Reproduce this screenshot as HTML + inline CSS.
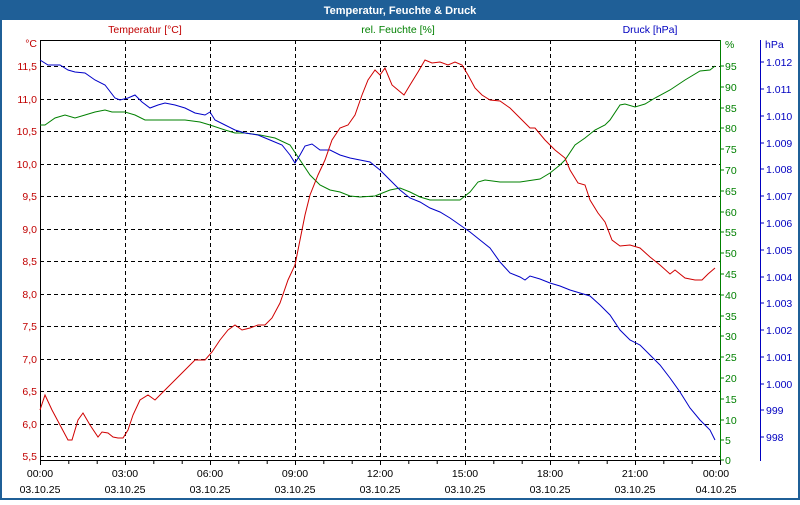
<!DOCTYPE html>
<html><head><meta charset="utf-8"><style>
body{margin:0;width:800px;height:500px;overflow:hidden;background:#fff;font-family:"Liberation Sans",sans-serif}
svg text{font-family:"Liberation Sans",sans-serif;font-size:10.5px}
</style></head><body>
<svg width="800" height="500" xmlns="http://www.w3.org/2000/svg">
<rect x="0" y="0" width="800" height="500" fill="#fff"/>
<rect x="1" y="1" width="798" height="498" fill="none" stroke="#1f5f97" stroke-width="2"/>
<rect x="0" y="0" width="800" height="20" fill="#1f5f97"/>
<text x="400" y="14" text-anchor="middle" fill="#fff" font-weight="bold" style="font-size:11px">Temperatur, Feuchte &amp; Druck</text>
<text x="145" y="33" text-anchor="middle" fill="#c00000">Temperatur [°C]</text>
<text x="398" y="33" text-anchor="middle" fill="#008000">rel. Feuchte [%]</text>
<text x="650" y="33" text-anchor="middle" fill="#0000c0">Druck [hPa]</text>
<g stroke="#000" stroke-dasharray="4,3" stroke-width="1">
<line x1="125.5" y1="40" x2="125.5" y2="460"/><line x1="210.5" y1="40" x2="210.5" y2="460"/><line x1="295.5" y1="40" x2="295.5" y2="460"/><line x1="380.5" y1="40" x2="380.5" y2="460"/><line x1="465.5" y1="40" x2="465.5" y2="460"/><line x1="550.5" y1="40" x2="550.5" y2="460"/><line x1="635.5" y1="40" x2="635.5" y2="460"/>
<line x1="40" y1="66.5" x2="720" y2="66.5"/><line x1="40" y1="99.5" x2="720" y2="99.5"/><line x1="40" y1="131.5" x2="720" y2="131.5"/><line x1="40" y1="164.5" x2="720" y2="164.5"/><line x1="40" y1="196.5" x2="720" y2="196.5"/><line x1="40" y1="229.5" x2="720" y2="229.5"/><line x1="40" y1="261.5" x2="720" y2="261.5"/><line x1="40" y1="294.5" x2="720" y2="294.5"/><line x1="40" y1="326.5" x2="720" y2="326.5"/><line x1="40" y1="359.5" x2="720" y2="359.5"/><line x1="40" y1="391.5" x2="720" y2="391.5"/><line x1="40" y1="424.5" x2="720" y2="424.5"/><line x1="40" y1="456.5" x2="720" y2="456.5"/>
</g>
<line x1="40" y1="40.5" x2="720" y2="40.5" stroke="#000"/>
<line x1="40.5" y1="40" x2="40.5" y2="461" stroke="#000"/>
<line x1="40" y1="460.5" x2="720" y2="460.5" stroke="#000"/>
<line x1="720.5" y1="40" x2="720.5" y2="461" stroke="#008000"/>
<line x1="760.5" y1="40" x2="760.5" y2="461" stroke="#0000c0"/>
<g stroke="#000" id="bt"></g>
<g fill="#c00000" text-anchor="end">
<text x="37" y="47">°C</text>
<text x="37" y="70">11,5</text><text x="37" y="103">11,0</text><text x="37" y="135">10,5</text><text x="37" y="168">10,0</text><text x="37" y="200">9,5</text><text x="37" y="233">9,0</text><text x="37" y="265">8,5</text><text x="37" y="298">8,0</text><text x="37" y="330">7,5</text><text x="37" y="363">7,0</text><text x="37" y="395">6,5</text><text x="37" y="428">6,0</text><text x="37" y="460">5,5</text>
</g>
<g fill="#008000">
<text x="725" y="48">%</text>
<text x="725" y="70">95</text><text x="725" y="91">90</text><text x="725" y="112">85</text><text x="725" y="132">80</text><text x="725" y="153">75</text><text x="725" y="174">70</text><text x="725" y="195">65</text><text x="725" y="216">60</text><text x="725" y="236">55</text><text x="725" y="257">50</text><text x="725" y="278">45</text><text x="725" y="299">40</text><text x="725" y="320">35</text><text x="725" y="340">30</text><text x="725" y="361">25</text><text x="725" y="382">20</text><text x="725" y="403">15</text><text x="725" y="424">10</text><text x="725" y="444">5</text><text x="725" y="464">0</text>
</g>
<g stroke="#008000">
<path d="M720 66h4M720 87h4M720 108h4M720 128h4M720 149h4M720 170h4M720 191h4M720 212h4M720 232h4M720 253h4M720 274h4M720 295h4M720 316h4M720 336h4M720 357h4M720 378h4M720 399h4M720 420h4M720 440h4M720 460h4"/>
</g>
<g stroke="#0000c0"><path d="M760 62h4M760 89h4M760 116h4M760 143h4M760 169h4M760 196h4M760 223h4M760 250h4M760 277h4M760 303h4M760 330h4M760 357h4M760 384h4M760 410h4M760 437h4"/></g>
<g fill="#0000c0">
<text x="765" y="48">hPa</text>
<text x="766" y="66">1.012</text><text x="766" y="93">1.011</text><text x="766" y="120">1.010</text><text x="766" y="147">1.009</text><text x="766" y="173">1.008</text><text x="766" y="200">1.007</text><text x="766" y="227">1.006</text><text x="766" y="254">1.005</text><text x="766" y="281">1.004</text><text x="766" y="307">1.003</text><text x="766" y="334">1.002</text><text x="766" y="361">1.001</text><text x="766" y="388">1.000</text><text x="766" y="414">999</text><text x="766" y="441">998</text>
</g>
<g stroke="#000">
<path d="M40.5 460v5M68.8 460v4M97.2 460v4M125.5 460v5M153.8 460v4M182.2 460v4M210.5 460v5M238.8 460v4M267.2 460v4M295.5 460v5M323.8 460v4M352.2 460v4M380.5 460v5M408.8 460v4M437.2 460v4M465.5 460v5M493.8 460v4M522.2 460v4M550.5 460v5M578.8 460v4M607.2 460v4M635.5 460v5M663.8 460v4M692.2 460v4M720.5 460v5"/>
</g>
<g fill="#000" text-anchor="middle">
<text x="40" y="477">00:00</text><text x="40" y="493">03.10.25</text>
<text x="125" y="477">03:00</text><text x="125" y="493">03.10.25</text>
<text x="210" y="477">06:00</text><text x="210" y="493">03.10.25</text>
<text x="295" y="477">09:00</text><text x="295" y="493">03.10.25</text>
<text x="380" y="477">12:00</text><text x="380" y="493">03.10.25</text>
<text x="465" y="477">15:00</text><text x="465" y="493">03.10.25</text>
<text x="550" y="477">18:00</text><text x="550" y="493">03.10.25</text>
<text x="635" y="477">21:00</text><text x="635" y="493">03.10.25</text>
<text x="716" y="477">00:00</text><text x="716" y="493">04.10.25</text>
</g>
<polyline fill="none" stroke="#008000" stroke-width="1" points="40,125 45,125 55,118 65,115 75,118 85,115 95,112 105,110 112,112 125,112 135,115 145,120 155,120 170,120 185,120 200,122 210,125 225,130 235,133 245,133 260,135 275,138 290,145 300,160 310,175 320,185 330,190 340,192 350,196 360,197 375,196 390,190 400,188 410,192 420,197 430,200 445,200 460,200 470,192 478,182 485,180 500,182 520,182 540,179 550,173 560,165 565,160 575,145 585,138 595,130 605,125 610,120 620,105 625,104 635,107 645,104 655,98 670,90 685,80 700,71 710,70 715,66"/>
<polyline fill="none" stroke="#0000c8" stroke-width="1" points="40,60 48,65 60,65 68,70 75,72 85,73 95,80 105,85 115,98 120,100 128,98 135,95 142,102 150,108 158,105 165,103 175,105 185,108 195,113 205,115 210,112 215,120 225,125 235,130 245,133 258,135 270,140 282,145 290,155 295,163 300,155 305,146 312,144 320,150 330,150 340,155 350,158 360,160 370,162 380,170 390,180 400,190 410,198 420,202 430,208 440,212 450,218 460,225 470,232 480,240 490,248 500,262 510,273 520,277 525,280 530,276 540,279 550,283 560,286 570,290 580,293 590,296 600,305 610,315 620,330 630,340 640,345 650,355 660,365 670,378 680,392 690,408 700,420 710,430 715,440"/>
<polyline fill="none" stroke="#d00000" stroke-width="1" points="40,410 45,395 52,410 60,425 68,440 72,440 78,420 83,413 90,425 98,437 102,432 108,433 113,437 118,438 123,438 128,430 133,415 140,400 148,395 155,400 165,390 175,380 185,370 195,360 205,360 212,352 220,340 228,330 235,325 242,330 250,328 258,325 265,325 272,318 280,303 288,280 295,265 300,240 305,215 310,195 318,175 325,160 332,140 340,128 348,125 355,115 362,95 368,80 375,70 380,75 385,68 392,85 398,90 404,95 410,85 418,72 425,60 432,63 440,62 448,65 455,62 462,65 468,75 475,88 482,95 490,100 500,101 510,108 520,118 530,128 535,128 545,140 555,150 565,158 570,170 578,183 585,185 590,200 598,213 605,222 612,240 620,246 630,245 640,248 650,257 660,265 670,274 675,270 685,278 695,280 702,280 708,274 715,268"/>
</svg>
</body></html>
